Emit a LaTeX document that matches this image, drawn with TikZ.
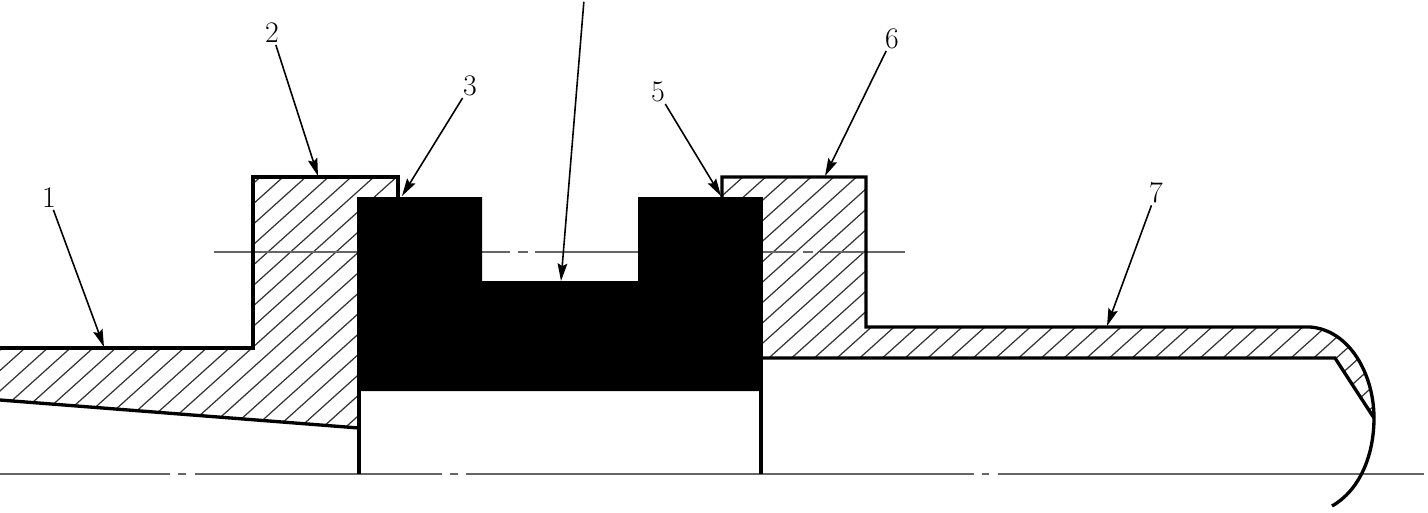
\documentclass[tikz,border=0pt]{standalone}
\usetikzlibrary{arrows.meta}
\tikzset{
  part/.style={line width=1.9pt,line join=miter},
  hatchline/.style={line width=0.7pt,black!80},
  axisline/.style={line width=1.25pt,black!60},
  leader/.style={line width=0.9pt,-{Stealth[length=10pt,width=5.5pt,inset=1.5pt]},shorten <=1pt},
  partno/.style={inner sep=0pt,font=\fontsize{17}{20}\selectfont}
}
\begin{document}
\begin{tikzpicture}[x=0.02cm,y=-0.02cm]
    \useasboundingbox (0,0) rectangle (1428,512);
    % section outlines
    \coordinate (lefthatch) at (25,348);
    \coordinate (righthatch) at (743,177);
    \begin{scope}
      \clip (0,348) -- (253,348) -- (253,177) -- (398,177) -- (398,197) -- (359,197) -- (359,428) -- (0,400) -- cycle;
      \foreach \k in {-12,...,30}
        \draw[hatchline] ([xshift=\k*22.7*0.02cm]lefthatch) ++(-200,180) -- ++(800,-720);
    \end{scope}
    \begin{scope}
      \clip (722,197) -- (722,177) -- (866,177) -- (866,327) -- (1310,327)
        .. controls (1350,330) and (1374,375) .. (1374,418) -- (1335,358) -- (761,358) -- (761,197) -- cycle;
      \foreach \k in {-5,...,50}
        \draw[hatchline] ([xshift=\k*22.7*0.02cm]righthatch) ++(-300,270) -- ++(800,-720);
    \end{scope}
    % axes
    \draw[axisline] (214,252) -- (359,252);
    \draw[axisline] (482,252) -- (510,252) (518,252) -- (528,252) (535,252) -- (638,252);
    \draw[axisline] (761,252) -- (795,252) (803,252) -- (813,252) (820,252) -- (905,252);
    \draw[axisline] (0,474) -- (170,474) (178,474) -- (186,474) (195,474) -- (442,474)
      (450,474) -- (458,474) (466,474) -- (974,474) (982,474) -- (989,474) (998,474) -- (1424,474);
    % profile
    \draw[part] (0,348) -- (253,348) -- (253,177) -- (398,177) -- (398,197);
    \draw[part] (0,400) -- (359,428);
    \draw[part] (359,197) -- (359,474);
    \draw[part] (761,197) -- (761,474);
    \draw[part] (722,197) -- (722,177) -- (866,177) -- (866,327) -- (1310,327)
      .. controls (1350,330) and (1374,375) .. (1374,418)
      .. controls (1374,455) and (1360,490) .. (1332,506);
    \draw[part] (761,358) -- (1335,358) -- (1374,418);
    \fill (359,197) -- (482,197) -- (482,281) -- (638,281) -- (638,197) -- (761,197) -- (761,391) -- (359,391) -- cycle;
    % part numbers
    \node[partno] (one) at (49,198) {1};
    \node[partno] (two) at (272,33) {2};
    \node[partno] (three) at (470,86) {3};
    \node[partno] (five) at (658,92) {5};
    \node[partno] (six) at (892,39) {6};
    \node[partno] (seven) at (1156,193) {7};
    \coordinate (topend) at (584,0);
    \coordinate (tipone) at (104,347);
    \coordinate (tiptwo) at (318,176);
    \coordinate (tipthree) at (402,196);
    \coordinate (tipfour) at (561,281);
    \coordinate (tipfive) at (721,196);
    \coordinate (tipsix) at (825,176);
    \coordinate (tipseven) at (1107,326);
    \draw[leader] (one) -- (tipone);
    \draw[leader] (two) -- (tiptwo);
    \draw[leader] (three) -- (tipthree);
    \draw[leader] (topend) -- (tipfour);
    \draw[leader] (five) -- (tipfive);
    \draw[leader] (six) -- (tipsix);
    \draw[leader] (seven) -- (tipseven);
\end{tikzpicture}
\end{document}
